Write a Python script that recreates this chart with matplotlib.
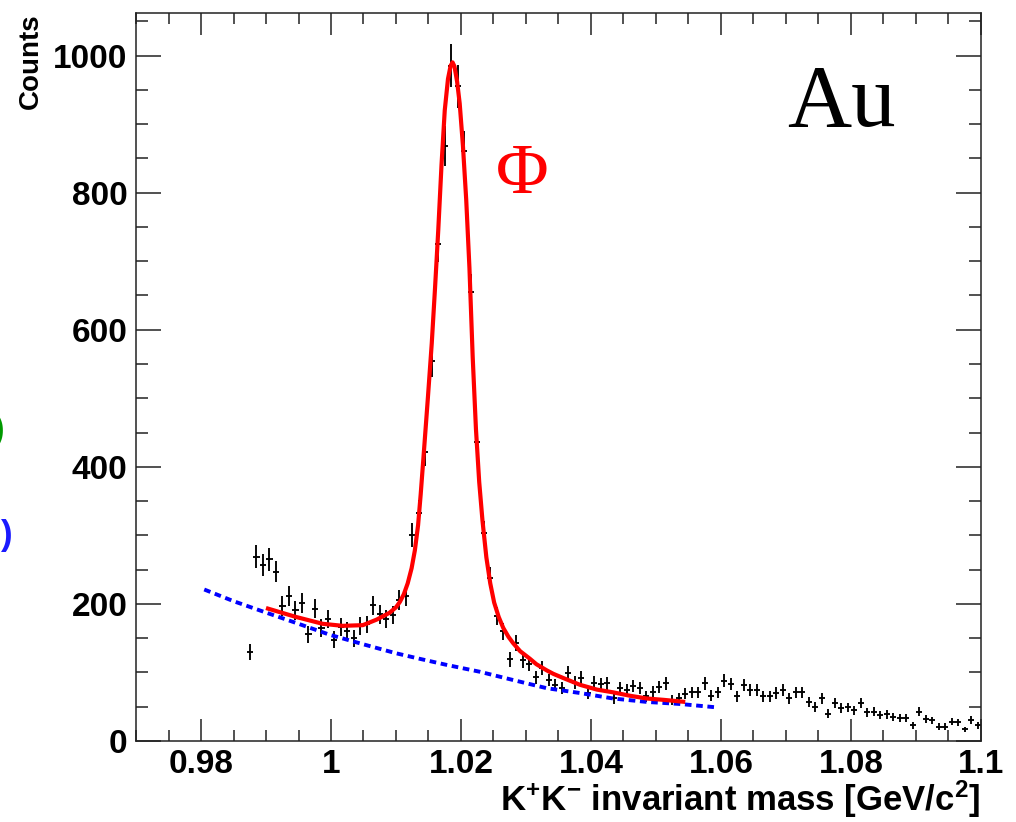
import numpy as np
import matplotlib
matplotlib.use("Agg")
import matplotlib.pyplot as plt
from matplotlib.ticker import MultipleLocator, FixedLocator

# ---------------- data ----------------
bin_first_center = 0.9875
bin_width = 0.001
counts = [
    130, 269, 257, 265, 247, 197, 212, 191, 201, 156,
    193, 165, 178, 148, 166, 161, 150, 168, 170, 198,
    185, 178, 184, 206, 212, 301, 333, 421, 554, 725,
    868, 985, 955, 860, 655, 436, 304, 238, 182, 160,
    119, 143, 118, 112, 93, 107, 89, 82, 77, 99,
    85, 92, 70, 85, 83, 84, 62, 77, 75, 80,
    77, 65, 72, 79, 84, 60, 62, 69, 71, 71,
    84, 66, 71, 88, 83, 65, 82, 75, 75, 65,
    65, 70, 75, 62, 71, 71, 57, 50, 62, 40,
    55, 48, 49, 45, 55, 42, 43, 38, 39, 35,
    33, 33, 23, 43, 32, 30, 21, 21, 28, 27,
    17, 31, 23,
]

fit_x = [0.9900, 0.9946, 0.9987, 1.0018, 1.0049, 1.0070, 1.0090, 1.0100,
         1.0106, 1.0112, 1.0118, 1.0124, 1.0129, 1.0134, 1.0138, 1.0143,
         1.0149, 1.0155, 1.0160, 1.0165, 1.0170, 1.0175, 1.0180, 1.0184,
         1.0187, 1.0190, 1.0194, 1.0198, 1.0203, 1.0208, 1.0213, 1.0218,
         1.0223, 1.0228, 1.0233, 1.0239, 1.0245, 1.0251, 1.0258, 1.0265,
         1.0273, 1.0280, 1.0291, 1.0306, 1.0316, 1.0332, 1.0342, 1.0357,
         1.0383, 1.0409, 1.0434, 1.0460, 1.0486, 1.0512, 1.0545]
fit_y = [194, 181, 171, 168, 169, 177, 187, 195,
         203, 214, 230, 252, 278, 315, 360, 423,
         500, 580, 660, 745, 840, 920, 966, 985,
         990, 984, 962, 930, 868, 790, 690, 560,
         455, 378, 322, 268, 230, 202, 181, 165,
         152, 143, 131, 120, 112, 103, 98, 92,
         82, 75, 71, 66, 62, 60, 57]

bg_x = [0.9805, 0.9850, 0.9895, 0.9950, 0.9998, 1.0050, 1.0100, 1.0136,
        1.0178, 1.0229, 1.0280, 1.0332, 1.0383, 1.0434, 1.0486, 1.0537, 1.0594]
bg_y = [221, 204, 189, 171, 155, 141, 128, 120,
        111, 101, 89, 77, 70, 62, 57, 54, 49]

xtick_vals = [0.98, 1.00, 1.02, 1.04, 1.06, 1.08, 1.10]
xtick_labels = ["0.98", "1", "1.02", "1.04", "1.06", "1.08", "1.1"]
ytick_vals = [0, 200, 400, 600, 800, 1000]
ytick_labels = ["0", "200", "400", "600", "800", "1000"]

# ---------------- style ----------------
plt.rcParams['font.family'] = ['Liberation Sans', 'DejaVu Sans']
plt.rcParams['mathtext.fontset'] = 'custom'
plt.rcParams['mathtext.rm'] = 'Liberation Sans:bold'
plt.rcParams['mathtext.it'] = 'Liberation Sans:bold'
plt.rcParams['mathtext.bf'] = 'Liberation Sans:bold'

W, H = 1016, 822
fig = plt.figure(figsize=(W / 100, H / 100), dpi=100)
L, R, B, T = 136, 981, 741, 13
ax = fig.add_axes([L / W, 1 - B / H, (R - L) / W, (B - T) / H])

counts_arr = np.array(counts, dtype=float)
centers = bin_first_center + bin_width * np.arange(len(counts_arr))
ax.errorbar(centers, counts_arr, xerr=bin_width / 2, yerr=np.sqrt(counts_arr),
            fmt='none', ecolor='black', elinewidth=1.35, capsize=0, zorder=2)

ax.plot(bg_x, bg_y, color=(0, 0, 1), lw=2.8, linestyle=(0, (1.7, 1.2)),
        dash_capstyle='butt', zorder=3)
ax.plot(fit_x, fit_y, color=(1, 0, 0), lw=3.0, solid_capstyle='butt',
        solid_joinstyle='round', zorder=4)

ax.set_xlim(0.97, 1.10)
ax.set_ylim(0, 1062)

ax.xaxis.set_major_locator(FixedLocator(xtick_vals))
ax.set_xticklabels(xtick_labels)
ax.xaxis.set_minor_locator(MultipleLocator(0.005))
ax.yaxis.set_major_locator(FixedLocator(ytick_vals))
ax.set_yticklabels(ytick_labels)
ax.yaxis.set_minor_locator(MultipleLocator(50))

ax.tick_params(which='both', direction='in', top=True, right=True, width=1.1,
               color='#222222')
ax.tick_params(axis='x', which='major', length=15.8, pad=6, labelsize=24)
ax.tick_params(axis='x', which='minor', length=7.9)
ax.tick_params(axis='y', which='major', length=18, pad=6, labelsize=24)
ax.tick_params(axis='y', which='minor', length=8.6)
for lab in ax.get_xticklabels() + ax.get_yticklabels():
    lab.set_fontweight('bold')
for s in ax.spines.values():
    s.set_linewidth(1.1)
    s.set_color('#222222')

fig.text(841 / W, 1 - 126 / H, 'Au', ha='center', va='baseline', fontsize=64,
         family='Liberation Serif')
fig.text(522 / W, 1 - 193 / H, '\u03a6', ha='center', va='baseline', fontsize=52,
         family='Liberation Serif', color='red')
fig.text(31 / W, 1 - 13 / H, 'Counts', rotation=90, ha='center', va='top',
         fontsize=20, fontweight='bold')
fig.text(980 / W, 1 - 811 / H,
         r'K$^{+}$K$^{-}$ invariant mass [GeV/c$^{2}$]',
         ha='right', va='baseline', fontsize=25, fontweight='bold')

# cropped parentheses from neighbouring panel at the left edge
fig.text(13 / W, 1 - 535 / H, ')', ha='right', va='center', fontsize=25,
         fontweight='bold', color=(0.1, 0.1, 1.0))
fig.text(5 / W, 1 - 430 / H, ')', ha='right', va='center', fontsize=25,
         fontweight='bold', color=(0.0, 0.6, 0.0))

fig.savefig('out.png', dpi=100)
